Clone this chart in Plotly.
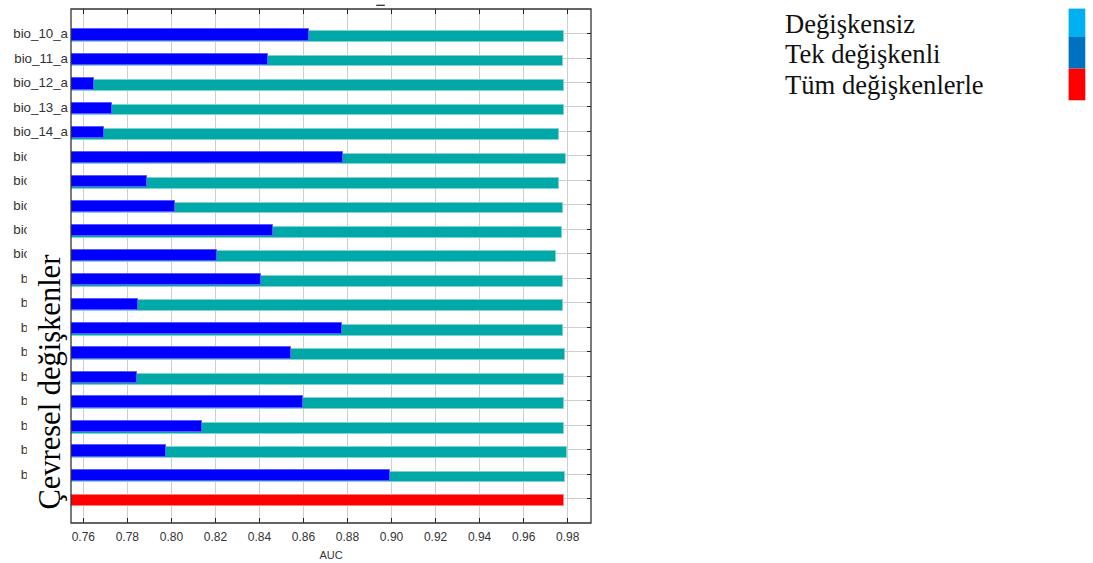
import plotly.graph_objects as go

# ---- data ----
variables = ["bio_10_a", "bio_11_a", "bio_12_a", "bio_13_a", "bio_14_a",
             "bio_15_a", "bio_16_a", "bio_17_a", "bio_18_a", "bio_19_a",
             "bio_1_a", "bio_2_a", "bio_3_a", "bio_4_a", "bio_5_a",
             "bio_6_a", "bio_7_a", "bio_8_a", "bio_9_a"]
without_var = [0.9782, 0.9777, 0.9782, 0.9782, 0.9759,
               0.9791, 0.9762, 0.9781, 0.9776, 0.9749,
               0.9780, 0.9781, 0.9781, 0.9790, 0.9782,
               0.9783, 0.9783, 0.9797, 0.9788]
only_var = [0.8627, 0.8440, 0.7647, 0.7732, 0.7694,
            0.8781, 0.7889, 0.8015, 0.8463, 0.8209,
            0.8409, 0.7850, 0.8776, 0.8545, 0.7845,
            0.8600, 0.8140, 0.7977, 0.8995]
all_vars = 0.9783
x_ticks = [0.76, 0.78, 0.80, 0.82, 0.84, 0.86, 0.88, 0.90, 0.92, 0.94, 0.96, 0.98]
legend_labels = ["Değişkensiz", "Tek değişkenli", "Tüm değişkenlerle"]
legend_colors = ["#00B0F0", "#0070C0", "#FF0000"]
y_title = "Çevresel değişkenler"
x_title = "AUC"

# ---- geometry ----
W, H = 1093, 563
L, R, T, B = 70.7, 590.7, 8.7, 522.7
pw, ph = R - L, B - T


def px(x):
    return (x - L) / pw


def py(y):
    return 1 - (y - T) / ph


n = len(variables)
rows = list(range(n + 1))

fig = go.Figure()
fig.add_trace(go.Bar(
    y=[i + 0.123 for i in range(n)], x=without_var, orientation="h",
    width=0.44, marker=dict(color="#00A8A8", line=dict(color="#7FD3D3", width=1)),
    showlegend=False))
fig.add_trace(go.Bar(
    y=[i + 0.057 for i in range(n)], x=only_var, orientation="h",
    width=0.46, marker=dict(color="#0000FF", line=dict(color="#5A5AFF", width=1)),
    showlegend=False))
fig.add_trace(go.Bar(
    y=[n + 0.065], x=[all_vars], orientation="h",
    width=0.45, marker=dict(color="#FF0000", line=dict(color="#FF8080", width=1)),
    showlegend=False))

fig.update_layout(
    width=W, height=H, autosize=False,
    margin=dict(l=L, r=W - R, t=T, b=H - B, pad=0, autoexpand=False),
    paper_bgcolor="white", plot_bgcolor="white",
    barmode="overlay", bargap=0,
    font=dict(family="Liberation Sans", color="#333333", size=12),
    xaxis=dict(range=[0.7544, 0.9906], tickvals=x_ticks,
               ticktext=[f"{v:.2f}" for v in x_ticks], automargin=False,
               ticks="inside", ticklen=5, tickcolor="#222", mirror="ticks",
               showline=False, showgrid=True, gridcolor="#CFCFCF", gridwidth=1,
               zeroline=False, tickfont=dict(size=12, color="#333"),
               ticklabelstandoff=5,
               title=dict(text=x_title, font=dict(size=11, color="#333"), standoff=8)),
    yaxis=dict(range=[n + 1.0, -1.004], tickvals=rows,
               ticktext=variables + [""], automargin=False,
               ticks="inside", ticklen=4, tickcolor="#222", mirror="ticks",
               layer="below traces", ticklabelstandoff=2,
               showline=False, showgrid=True, gridcolor="#CFCFCF", gridwidth=1,
               zeroline=False, tickfont=dict(size=13.3, color="#333")),
)

shapes = []
# frame
shapes.append(dict(type="rect", xref="paper", yref="paper", x0=0, x1=1, y0=0, y1=1,
                   line=dict(color="#333333", width=1.3), layer="above"))
# white box over label region
shapes.append(dict(type="rect", xref="paper", yref="paper",
                   x0=px(26.5), x1=px(69.5), y0=py(512), y1=py(145),
                   line=dict(width=0), fillcolor="white", layer="above"))
# small dash above the frame
shapes.append(dict(type="line", xref="paper", yref="paper",
                   x0=px(376), x1=px(384.5), y0=py(5), y1=py(5),
                   line=dict(color="#222", width=1.2), layer="above"))
# legend colour blocks
ytops = [8.3, 36.7, 68.3]
ybots = [36.7, 68.3, 100.0]
for c, t0, b0 in zip(legend_colors, ytops, ybots):
    shapes.append(dict(type="rect", xref="paper", yref="paper",
                       x0=px(1068.3), x1=px(1085), y0=py(b0), y1=py(t0),
                       line=dict(width=0), fillcolor=c, layer="above"))
fig.update_layout(shapes=shapes)

ann = []
ann.append(dict(text=y_title, xref="paper", yref="paper", x=px(50), y=py(382),
                xanchor="center", yanchor="middle", textangle=-90, showarrow=False,
                font=dict(family="Liberation Serif", size=30.5, color="black")))
for lab, yc in zip(legend_labels, [24.0, 54.0, 84.5]):
    ann.append(dict(text=lab, xref="paper", yref="paper", x=px(783), y=py(yc),
                    xanchor="left", yanchor="middle", showarrow=False,
                    font=dict(family="Liberation Serif", size=26.6, color="#111")))
fig.update_layout(annotations=ann)

fig.write_html("out.html", config={"displayModeBar": False},
               post_script="document.body.style.margin='0';")
